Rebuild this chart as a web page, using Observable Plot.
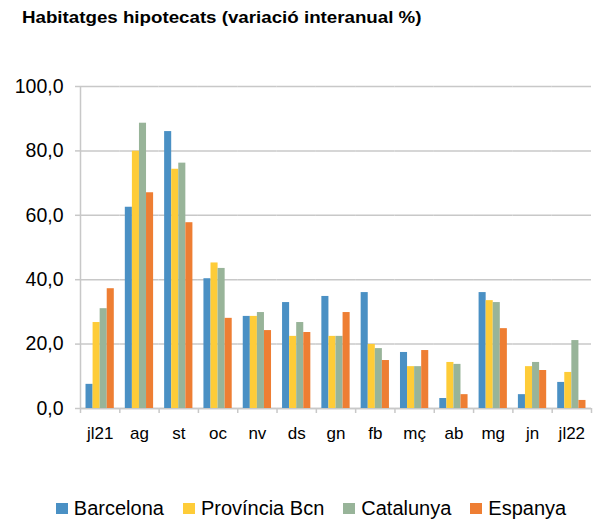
<!DOCTYPE html>
<html>
<head>
<meta charset="utf-8">
<script src="https://cdn.jsdelivr.net/npm/d3@7"></script>
<script src="https://cdn.jsdelivr.net/npm/@observablehq/plot@0.6"></script>
<style>
  html, body { margin: 0; padding: 0; background: #fff; }
  body { width: 598px; height: 519px; position: relative; overflow: hidden; font-family: "Liberation Sans", Arial, sans-serif; }
  #title { position: absolute; left: 22px; top: 9px; font-weight: bold; font-size: 16px; color: #000; white-space: nowrap; transform: scaleX(1.17); transform-origin: left top; }
  #chart { position: absolute; left: 0; top: 50px; }
  #legend { position: absolute; left: 12px; width: 598px; top: 497px; display: flex; justify-content: center; align-items: center; font-size: 20px; color: #000; }
  .item { display: flex; align-items: center; margin: 0 9.5px; }
  .sw { width: 12px; height: 11px; margin-right: 6px; }
</style>
</head>
<body>
<div id="title">Habitatges hipotecats (variació interanual %)</div>
<div id="chart"></div>
<div id="legend"></div>
<script>
const categories = ["jl21","ag","st","oc","nv","ds","gn","fb","mç","ab","mg","jn","jl22"];
const series = ["Barcelona","Província Bcn","Catalunya","Espanya"];
const barcelona = [7.5, 62.5, 86.0, 40.3, 28.6, 32.9, 34.8, 36.0, 17.4, 3.1, 36.0, 4.3, 8.1];
const provincia = [26.7, 79.9, 74.3, 45.2, 28.6, 22.4, 22.4, 19.9, 13.0, 14.3, 33.5, 13.0, 11.2];
const catalunya = [31.0, 88.6, 76.2, 43.5, 29.8, 26.7, 22.4, 18.6, 13.0, 13.7, 32.9, 14.3, 21.1];
const espanya = [37.2, 67.0, 57.7, 28.0, 24.2, 23.6, 29.8, 14.9, 18.0, 4.3, 24.8, 11.8, 2.5];
const yTicks = [0, 20, 40, 60, 80, 100];
const colors = ["#4a90c4", "#fecc38", "#98b499", "#ee7e33"];

const valuesBySeries = [barcelona, provincia, catalunya, espanya];
const data = [];
categories.forEach((c, i) => {
  series.forEach((s, j) => data.push({cat: c, series: s, value: valuesBySeries[j][i]}));
});

const W = 598, ML = 80, MR = 7;
const padOuter = 0.78;
const step = (W - ML - MR) / categories.length;
const bw = step / (series.length + 2 * padOuter);
const firstCenter = padOuter * bw + bw / 2;
const gray = "#c8c8c8";
const fmt = d => d3.format(".1f")(d).replace(".", ",");

const plot = Plot.plot({
  width: W, height: 400,
  marginTop: 36, marginBottom: 42, marginLeft: ML, marginRight: MR,
  style: {fontFamily: "Liberation Sans, Arial, sans-serif", background: "white"},
  fx: {domain: categories, padding: 0, round: false, axis: null, label: null},
  x: {domain: series, paddingInner: 0, paddingOuter: padOuter, round: false, axis: null, label: null},
  y: {domain: [0, 100], axis: null, label: null},
  color: {domain: series, range: colors},
  marks: [
    Plot.gridY(yTicks, {stroke: gray, strokeOpacity: 1, strokeWidth: 1.5}),
    Plot.axisY({ticks: yTicks, tickSize: 5, stroke: gray, strokeWidth: 1.5, text: null, label: null}),
    Plot.axisY({ticks: yTicks, tickSize: 0, tickPadding: 17, tickFormat: fmt, fontSize: 19.5, fill: "#000", label: null}),
    Plot.ruleY([0], {stroke: gray, strokeWidth: 1.5}),
    Plot.ruleX([{cat: categories[0]}], {fx: "cat", x: () => series[0], y1: 0, y2: 100, dx: -firstCenter, stroke: gray, strokeWidth: 1.5}),
    Plot.ruleX(categories.map(c => ({cat: c})), {fx: "cat", x: () => series[0], y1: 0, insetBottom: -5, dx: -firstCenter, stroke: gray, strokeWidth: 1.5}),
    Plot.ruleX([{cat: categories[categories.length - 1]}], {fx: "cat", x: () => series[0], y1: 0, insetBottom: -5, dx: step - firstCenter, stroke: gray, strokeWidth: 1.5}),
    Plot.barY(data, {fx: "cat", x: "series", y: "value", fill: "series"}),
    Plot.axisFx({anchor: "bottom", tickSize: 0, tickPadding: 18, fontSize: 17, fill: "#000", label: null})
  ]
});
document.getElementById("chart").appendChild(plot);

const legend = document.getElementById("legend");
series.forEach((s, j) => {
  const it = document.createElement("div");
  it.className = "item";
  const sw = document.createElement("div");
  sw.className = "sw";
  sw.style.background = colors[j];
  const t = document.createElement("span");
  t.textContent = s;
  it.appendChild(sw); it.appendChild(t);
  legend.appendChild(it);
});
</script>
</body>
</html>
